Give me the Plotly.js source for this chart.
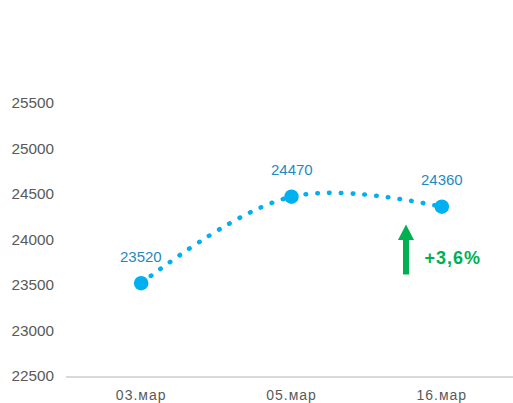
<!DOCTYPE html>
<html>
<head>
<meta charset="utf-8">
<script src="https://cdn.plot.ly/plotly-3.0.1.min.js"></script>
<style>
html,body{margin:0;padding:0;background:#fff;overflow:hidden;}
#wrap{width:513px;height:403px;overflow:hidden;}
#chart{width:517px;height:403px;}
#chart .scatterlayer .js-line{stroke-linecap:round;}
#chart .xtick text{letter-spacing:1px;}
#chart .annotation[data-index="3"] .annotation-text{letter-spacing:1px;}
</style>
</head>
<body>
<div id="wrap"><div id="chart"></div></div>
<script>
var categories = ['03.мар', '05.мар', '16.мар'];
var values = [23520, 24470, 24360];
var yTicks = [22500, 23000, 23500, 24000, 24500, 25000, 25500];
var changeLabel = '+3,6%';

var trace = {
  x: categories,
  y: values,
  type: 'scatter',
  mode: 'lines+markers',
  line: {shape: 'spline', smoothing: 1, color: '#00b0f0', width: 4.6, dash: '0.5px,11.3px'},
  marker: {size: 14.5, color: '#00b0f0'},
  hoverinfo: 'none',
  cliponaxis: false
};

var valueLabels = categories.map(function (c, i) {
  return {
    xref: 'x', yref: 'y', x: c, y: values[i],
    yshift: 27, yanchor: 'middle', xanchor: 'center',
    showarrow: false, text: String(values[i]),
    font: {family: 'Liberation Sans, Arial, sans-serif', size: 15, color: '#1f8ac0'}
  };
});

var layout = {
  width: 517, height: 403,
  margin: {l: 66, r: 0, t: 103, b: 27},
  paper_bgcolor: '#ffffff', plot_bgcolor: '#ffffff',
  showlegend: false,
  font: {family: 'Liberation Sans, Arial, sans-serif', size: 13, color: '#595959'},
  xaxis: {
    type: 'category', range: [-0.5, 2.5],
    showgrid: false, zeroline: false,
    showline: true, linecolor: '#d9d9d9', linewidth: 2,
    ticks: '', ticklabelstandoff: 5,
    tickfont: {size: 14, color: '#595959'},
    fixedrange: true
  },
  yaxis: {
    range: [22500, 25500], tickvals: yTicks, ticktext: yTicks.map(String),
    showgrid: false, zeroline: false, showline: false,
    ticks: '', ticklabelstandoff: 11,
    tickfont: {size: 15.3, color: '#595959'},
    fixedrange: true
  },
  shapes: [
    {
      type: 'path', xref: 'paper', yref: 'paper',
      path: 'M0.7539,0.5549 L0.7716,0.4982 L0.7605,0.4982 L0.7605,0.3718 L0.7472,0.3718 L0.7472,0.4982 L0.7361,0.4982 Z',
      fillcolor: '#00b050', line: {width: 0}
    }
  ],
  annotations: valueLabels.concat([
    {
      xref: 'paper', yref: 'paper', x: 0.796, y: 0.432,
      xanchor: 'left', yanchor: 'middle', showarrow: false,
      text: '<b>' + changeLabel + '</b>',
      font: {family: 'Liberation Sans, Arial, sans-serif', size: 18, color: '#00b050'}
    }
  ])
};

Plotly.newPlot('chart', [trace], layout, {displayModeBar: false, staticPlot: true});
</script>
</body>
</html>
